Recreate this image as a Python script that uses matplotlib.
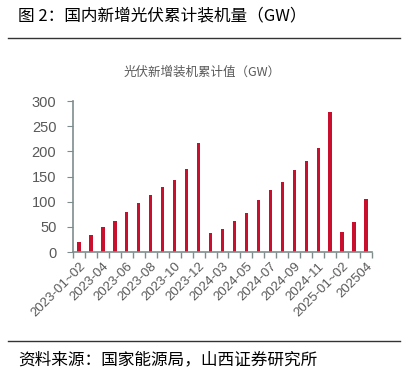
import numpy as np
import matplotlib.pyplot as plt

plt.rcParams['font.family'] = ['Liberation Sans', 'Noto Sans CJK SC', 'DejaVu Sans']

# 光伏新增装机累计值（GW）
months = ['2023-01~02', '2023-03', '2023-04', '2023-05', '2023-06', '2023-07',
          '2023-08', '2023-09', '2023-10', '2023-11', '2023-12',
          '2024-01~02', '2024-03', '2024-04', '2024-05', '2024-06', '2024-07',
          '2024-08', '2024-09', '2024-10', '2024-11', '2024-12',
          '2025-01~02', '2025-03', '202504']
values = [20.5, 33.8, 49, 61, 79, 98, 113, 129, 143, 165, 217,
          37, 45.7, 61, 78, 103, 123, 140, 162, 181.5, 206, 277.5,
          39.7, 59, 105]

gray = '#7f8c8d'
txt = '#595959'

fig = plt.figure(figsize=(4.15, 3.79), dpi=100)
ax = fig.add_axes([73 / 415, 1 - 252 / 379, 299 / 415, 151 / 379])

x = np.arange(len(months))
ax.bar(x, values, width=0.28, color='#C8102E')
ax.set_xlim(-0.5, len(months) - 0.5)
ax.set_ylim(0, 300)
ax.set_yticks(range(0, 301, 50))

ax.set_xticks(x[::2])
ax.set_xticklabels(months[::2], rotation=45, ha='right', rotation_mode='anchor',
                   fontsize=9.5, color=txt)
ax.set_xticks(np.arange(-0.5, len(months), 1), minor=True)
ax.tick_params(axis='x', which='major', length=0, pad=6)
ax.tick_params(axis='x', which='minor', length=4, color=gray, width=1)
ax.tick_params(axis='y', length=4, color=gray, labelsize=10.5, labelcolor=txt, pad=8)

for s in ['top', 'right']:
    ax.spines[s].set_visible(False)
for s in ['left', 'bottom']:
    ax.spines[s].set_color(gray)
    ax.spines[s].set_linewidth(1.2)

fig.text(202 / 415, 1 - 72 / 379, '光伏新增装机累计值（GW）', ha='center', va='center',
         fontsize=9, color=txt, family=['Noto Sans CJK SC'])

fig.text(18 / 415, 1 - 16 / 379, '图 2：国内新增光伏累计装机量（GW）', ha='left', va='center',
         fontsize=12, color='black', family=['Noto Sans CJK SC'])
fig.add_artist(plt.Line2D([8 / 415, 400 / 415], [1 - 38 / 379, 1 - 38 / 379],
                          color='#333333', linewidth=1))
fig.add_artist(plt.Line2D([8 / 415, 400 / 415], [1 - 341 / 379, 1 - 341 / 379],
                          color='#333333', linewidth=1))
fig.text(18 / 415, 1 - 360 / 379, '资料来源：国家能源局，山西证券研究所', ha='left', va='center',
         fontsize=12, color='black', family=['Noto Sans CJK SC'])

fig.savefig('out.png', dpi=100, facecolor='white')
